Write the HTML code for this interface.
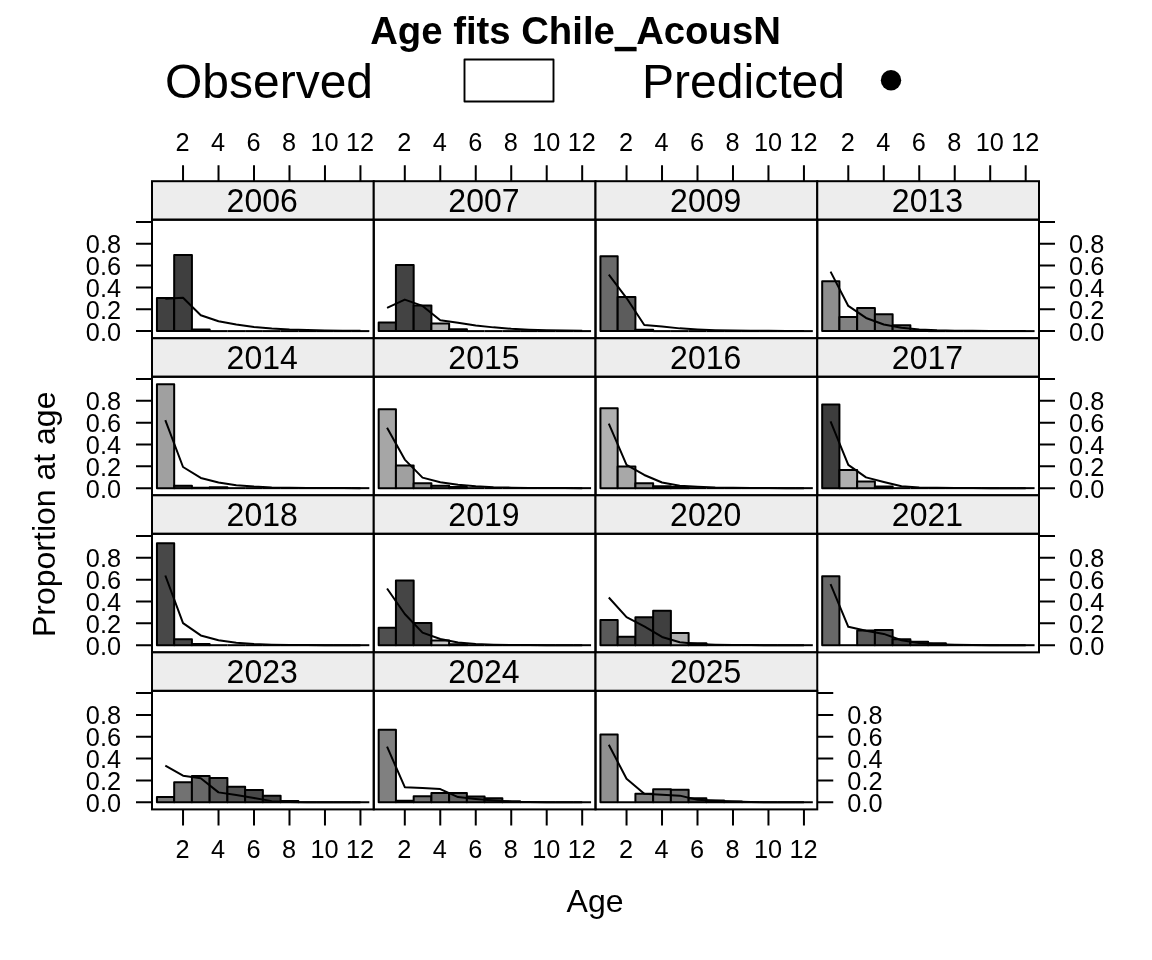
<!DOCTYPE html>
<html><head><meta charset="utf-8"><title>Age fits Chile_AcousN</title>
<style>
html,body{margin:0;padding:0;background:#fff;}
body{width:1152px;height:960px;overflow:hidden;font-family:"Liberation Sans",sans-serif;}
svg{display:block;will-change:transform;filter:grayscale(1);}
.t{font-family:"Liberation Sans",sans-serif;fill:#000;}
</style></head><body>
<svg width="1152" height="960" viewBox="0 0 1152 960">
<rect x="0" y="0" width="1152" height="960" fill="#ffffff"/>
<text x="575.5" y="43.6" font-size="38.3" font-weight="bold" text-anchor="middle" class="t">Age fits Chile_AcousN</text>
<text x="165" y="97.5" font-size="48" class="t" textLength="208" lengthAdjust="spacingAndGlyphs">Observed</text>
<rect x="464.5" y="59.5" width="89" height="42" fill="#fff" stroke="#000" stroke-width="1.9" stroke-linejoin="round"/>
<rect x="614.8" y="47.5" width="21.8" height="3.8" fill="#000"/>
<text x="642" y="97.5" font-size="48" class="t" textLength="203" lengthAdjust="spacingAndGlyphs">Predicted</text>
<circle cx="891" cy="80.3" r="10.2" fill="#000"/>
<rect x="152" y="181.2" width="221.75" height="38.5" fill="#ededed" stroke="#000" stroke-width="2"/>
<text transform="translate(262.18 212.05) scale(1 1.050)" font-size="32" text-anchor="middle" class="t">2006</text>
<g stroke="#000" stroke-width="2" fill="none" stroke-linejoin="round"><rect x="156.94" y="297.96" width="17.24" height="33.14" fill="#414141"/><rect x="174.18" y="255.04" width="17.74" height="76.06" fill="#3f3f3f"/><rect x="191.91" y="329.61" width="17.74" height="1.49" fill="#404040"/><path d="M209.66 331.1h17.74"/><path d="M227.39 331.1h17.74"/><path d="M245.13 331.1h17.74"/><path d="M262.88 331.1h17.74"/><path d="M280.62 331.1h17.74"/><path d="M298.36 331.1h17.74"/><path d="M316.1 331.1h17.74"/><path d="M333.83 331.1h17.74"/><path d="M351.57 331.1h17.74"/></g>
<polyline points="165.31,298.72 183.04,297.74 200.78,315.21 218.52,321.22 236.26,324.6 254,327 271.75,328.62 289.49,329.61 307.23,330.11 324.96,330.48 342.7,330.73 360.44,330.85" fill="none" stroke="#000" stroke-width="2" stroke-linejoin="round"/>
<rect x="152" y="219.7" width="221.75" height="118.55" fill="none" stroke="#000" stroke-width="2"/>
<rect x="373.75" y="181.2" width="221.75" height="38.5" fill="#ededed" stroke="#000" stroke-width="2"/>
<text transform="translate(483.93 212.05) scale(1 1.050)" font-size="32" text-anchor="middle" class="t">2007</text>
<g stroke="#000" stroke-width="2" fill="none" stroke-linejoin="round"><rect x="378.69" y="322.53" width="17.24" height="8.57" fill="#555555"/><rect x="395.93" y="264.98" width="17.74" height="66.12" fill="#434343"/><rect x="413.67" y="305.49" width="17.74" height="25.61" fill="#404040"/><rect x="431.4" y="323.51" width="17.74" height="7.59" fill="#b2b2b2"/><rect x="449.14" y="329.24" width="17.74" height="1.86" fill="#404040"/><path d="M466.88 331.1h17.74"/><path d="M484.62 331.1h17.74"/><path d="M502.37 331.1h17.74"/><path d="M520.11 331.1h17.74"/><path d="M537.85 331.1h17.74"/><path d="M555.59 331.1h17.74"/><path d="M573.33 331.1h17.74"/></g>
<polyline points="387.06,307.9 404.8,299.6 422.53,305.93 440.27,320.34 458.01,322.86 475.75,325.48 493.5,327.37 511.24,328.86 528.98,329.73 546.71,330.23 564.45,330.6 582.19,330.85" fill="none" stroke="#000" stroke-width="2" stroke-linejoin="round"/>
<rect x="373.75" y="219.7" width="221.75" height="118.55" fill="none" stroke="#000" stroke-width="2"/>
<rect x="595.5" y="181.2" width="221.75" height="38.5" fill="#ededed" stroke="#000" stroke-width="2"/>
<text transform="translate(705.67 212.05) scale(1 1.050)" font-size="32" text-anchor="middle" class="t">2009</text>
<g stroke="#000" stroke-width="2" fill="none" stroke-linejoin="round"><rect x="600.43" y="256.24" width="17.24" height="74.86" fill="#6a6a6a"/><rect x="617.67" y="296.98" width="17.74" height="34.12" fill="#5c5c5c"/><rect x="635.41" y="329.86" width="17.74" height="1.24" fill="#404040"/><path d="M653.15 331.1h17.74"/><path d="M670.89 331.1h17.74"/><path d="M688.63 331.1h17.74"/><path d="M706.38 331.1h17.74"/><path d="M724.12 331.1h17.74"/><path d="M741.86 331.1h17.74"/><path d="M759.6 331.1h17.74"/><path d="M777.34 331.1h17.74"/><path d="M795.08 331.1h17.74"/></g>
<polyline points="608.8,274.59 626.54,298.07 644.28,324.93 662.02,326.5 679.76,328.37 697.5,329.49 715.25,330.23 732.99,330.6 750.73,330.73 768.46,330.85 786.2,330.98 803.94,330.98" fill="none" stroke="#000" stroke-width="2" stroke-linejoin="round"/>
<rect x="595.5" y="219.7" width="221.75" height="118.55" fill="none" stroke="#000" stroke-width="2"/>
<rect x="817.25" y="181.2" width="221.75" height="38.5" fill="#ededed" stroke="#000" stroke-width="2"/>
<text transform="translate(927.42 212.05) scale(1 1.050)" font-size="32" text-anchor="middle" class="t">2013</text>
<g stroke="#000" stroke-width="2" fill="none" stroke-linejoin="round"><rect x="822.18" y="281.36" width="17.24" height="49.74" fill="#8e8e8e"/><rect x="839.42" y="316.96" width="17.74" height="14.14" fill="#828282"/><rect x="857.16" y="307.9" width="17.74" height="23.2" fill="#7a7a7a"/><rect x="874.9" y="314.34" width="17.74" height="16.76" fill="#727272"/><rect x="892.64" y="325.26" width="17.74" height="5.84" fill="#6e6e6e"/><rect x="910.38" y="330.48" width="17.74" height="0.62" fill="#404040"/><path d="M928.12 331.1h17.74"/><path d="M945.87 331.1h17.74"/><path d="M963.61 331.1h17.74"/><path d="M981.35 331.1h17.74"/><path d="M999.09 331.1h17.74"/><path d="M1016.83 331.1h17.74"/></g>
<polyline points="830.55,271.64 848.29,305.93 866.03,317.94 883.77,324.49 901.51,327.75 919.25,329.49 937,330.35 954.74,330.73 972.48,330.85 990.21,330.98 1007.95,330.98 1025.69,331.1" fill="none" stroke="#000" stroke-width="2" stroke-linejoin="round"/>
<rect x="817.25" y="219.7" width="221.75" height="118.55" fill="none" stroke="#000" stroke-width="2"/>
<rect x="152" y="338.25" width="221.75" height="38.5" fill="#ededed" stroke="#000" stroke-width="2"/>
<text transform="translate(262.18 369.1) scale(1 1.050)" font-size="32" text-anchor="middle" class="t">2014</text>
<g stroke="#000" stroke-width="2" fill="none" stroke-linejoin="round"><rect x="156.94" y="384.14" width="17.24" height="104.01" fill="#a0a0a0"/><rect x="174.18" y="485.67" width="17.74" height="2.48" fill="#505050"/><rect x="191.91" y="487.78" width="17.74" height="0.37" fill="#404040"/><rect x="209.66" y="487.16" width="17.74" height="0.99" fill="#404040"/><path d="M227.39 488.15h17.74"/><path d="M245.13 488.15h17.74"/><path d="M262.88 488.15h17.74"/><path d="M280.62 488.15h17.74"/><path d="M298.36 488.15h17.74"/><path d="M316.1 488.15h17.74"/><path d="M333.83 488.15h17.74"/><path d="M351.57 488.15h17.74"/></g>
<polyline points="165.31,420.06 183.04,467.02 200.78,477.94 218.52,482.42 236.26,485.17 254,486.54 271.75,487.4 289.49,487.78 307.23,487.9 324.96,488.03 342.7,488.03 360.44,488.15" fill="none" stroke="#000" stroke-width="2" stroke-linejoin="round"/>
<rect x="152" y="376.75" width="221.75" height="118.55" fill="none" stroke="#000" stroke-width="2"/>
<rect x="373.75" y="338.25" width="221.75" height="38.5" fill="#ededed" stroke="#000" stroke-width="2"/>
<text transform="translate(483.93 369.1) scale(1 1.050)" font-size="32" text-anchor="middle" class="t">2015</text>
<g stroke="#000" stroke-width="2" fill="none" stroke-linejoin="round"><rect x="378.69" y="409.25" width="17.24" height="78.9" fill="#a6a6a6"/><rect x="395.93" y="465.38" width="17.74" height="22.77" fill="#a0a0a0"/><rect x="413.67" y="483.18" width="17.74" height="4.97" fill="#8c8c8c"/><rect x="431.4" y="485.67" width="17.74" height="2.48" fill="#6c6c6c"/><rect x="449.14" y="486.91" width="17.74" height="1.24" fill="#505050"/><path d="M466.88 488.15h17.74"/><path d="M484.62 488.15h17.74"/><path d="M502.37 488.15h17.74"/><path d="M520.11 488.15h17.74"/><path d="M537.85 488.15h17.74"/><path d="M555.59 488.15h17.74"/><path d="M573.33 488.15h17.74"/></g>
<polyline points="387.06,427.71 404.8,459.59 422.53,477.61 440.27,482.31 458.01,484.8 475.75,486.29 493.5,487.28 511.24,487.65 528.98,487.9 546.71,488.03 564.45,488.03 582.19,488.15" fill="none" stroke="#000" stroke-width="2" stroke-linejoin="round"/>
<rect x="373.75" y="376.75" width="221.75" height="118.55" fill="none" stroke="#000" stroke-width="2"/>
<rect x="595.5" y="338.25" width="221.75" height="38.5" fill="#ededed" stroke="#000" stroke-width="2"/>
<text transform="translate(705.67 369.1) scale(1 1.050)" font-size="32" text-anchor="middle" class="t">2016</text>
<g stroke="#000" stroke-width="2" fill="none" stroke-linejoin="round"><rect x="600.43" y="408.27" width="17.24" height="79.88" fill="#b0b0b0"/><rect x="617.67" y="466.58" width="17.74" height="21.57" fill="#a8a8a8"/><rect x="635.41" y="483.18" width="17.74" height="4.97" fill="#8e8e8e"/><rect x="653.15" y="486.29" width="17.74" height="1.86" fill="#505050"/><rect x="670.89" y="486.91" width="17.74" height="1.24" fill="#484848"/><path d="M688.63 488.15h17.74"/><path d="M706.38 488.15h17.74"/><path d="M724.12 488.15h17.74"/><path d="M741.86 488.15h17.74"/><path d="M759.6 488.15h17.74"/><path d="M777.34 488.15h17.74"/><path d="M795.08 488.15h17.74"/></g>
<polyline points="608.8,423.67 626.54,464.94 644.28,474.99 662.02,482.53 679.76,485.67 697.5,486.78 715.25,487.53 732.99,487.78 750.73,487.9 768.46,488.03 786.2,488.15 803.94,488.15" fill="none" stroke="#000" stroke-width="2" stroke-linejoin="round"/>
<rect x="595.5" y="376.75" width="221.75" height="118.55" fill="none" stroke="#000" stroke-width="2"/>
<rect x="817.25" y="338.25" width="221.75" height="38.5" fill="#ededed" stroke="#000" stroke-width="2"/>
<text transform="translate(927.42 369.1) scale(1 1.050)" font-size="32" text-anchor="middle" class="t">2017</text>
<g stroke="#000" stroke-width="2" fill="none" stroke-linejoin="round"><rect x="822.18" y="404.56" width="17.24" height="83.59" fill="#3d3d3d"/><rect x="839.42" y="469.97" width="17.74" height="18.18" fill="#b0b0b0"/><rect x="857.16" y="481.54" width="17.74" height="6.61" fill="#a6a6a6"/><rect x="874.9" y="486.54" width="17.74" height="1.61" fill="#808080"/><path d="M892.64 488.15h17.74"/><path d="M910.38 488.15h17.74"/><path d="M928.12 488.15h17.74"/><path d="M945.87 488.15h17.74"/><path d="M963.61 488.15h17.74"/><path d="M981.35 488.15h17.74"/><path d="M999.09 488.15h17.74"/><path d="M1016.83 488.15h17.74"/></g>
<polyline points="830.55,421.48 848.29,464.94 866.03,477.39 883.77,481.98 901.51,486.29 919.25,487.53 937,487.78 954.74,487.9 972.48,488.03 990.21,488.15 1007.95,488.15 1025.69,488.15" fill="none" stroke="#000" stroke-width="2" stroke-linejoin="round"/>
<rect x="817.25" y="376.75" width="221.75" height="118.55" fill="none" stroke="#000" stroke-width="2"/>
<rect x="152" y="495.3" width="221.75" height="38.5" fill="#ededed" stroke="#000" stroke-width="2"/>
<text transform="translate(262.18 526.15) scale(1 1.050)" font-size="32" text-anchor="middle" class="t">2018</text>
<g stroke="#000" stroke-width="2" fill="none" stroke-linejoin="round"><rect x="156.94" y="543.15" width="17.24" height="102.05" fill="#484848"/><rect x="174.18" y="639.36" width="17.74" height="5.84" fill="#484848"/><rect x="191.91" y="643.96" width="17.74" height="1.24" fill="#404040"/><path d="M209.66 645.2h17.74"/><path d="M227.39 645.2h17.74"/><path d="M245.13 645.2h17.74"/><path d="M262.88 645.2h17.74"/><path d="M280.62 645.2h17.74"/><path d="M298.36 645.2h17.74"/><path d="M316.1 645.2h17.74"/><path d="M333.83 645.2h17.74"/><path d="M351.57 645.2h17.74"/></g>
<polyline points="165.31,575.48 183.04,623.09 200.78,635.43 218.52,640.23 236.26,642.72 254,644.08 271.75,644.7 289.49,644.95 307.23,645.08 324.96,645.2 342.7,645.2 360.44,645.2" fill="none" stroke="#000" stroke-width="2" stroke-linejoin="round"/>
<rect x="152" y="533.8" width="221.75" height="118.55" fill="none" stroke="#000" stroke-width="2"/>
<rect x="373.75" y="495.3" width="221.75" height="38.5" fill="#ededed" stroke="#000" stroke-width="2"/>
<text transform="translate(483.93 526.15) scale(1 1.050)" font-size="32" text-anchor="middle" class="t">2019</text>
<g stroke="#000" stroke-width="2" fill="none" stroke-linejoin="round"><rect x="378.69" y="627.78" width="17.24" height="17.42" fill="#505050"/><rect x="395.93" y="580.5" width="17.74" height="64.7" fill="#454545"/><rect x="413.67" y="623.09" width="17.74" height="22.11" fill="#424242"/><rect x="431.4" y="640.48" width="17.74" height="4.72" fill="#c6c6c6"/><rect x="449.14" y="644.21" width="17.74" height="0.99" fill="#606060"/><path d="M466.88 645.2h17.74"/><path d="M484.62 645.2h17.74"/><path d="M502.37 645.2h17.74"/><path d="M520.11 645.2h17.74"/><path d="M537.85 645.2h17.74"/><path d="M555.59 645.2h17.74"/><path d="M573.33 645.2h17.74"/></g>
<polyline points="387.06,588.47 404.8,614.02 422.53,632.59 440.27,639.03 458.01,642.47 475.75,644.08 493.5,644.7 511.24,644.95 528.98,645.08 546.71,645.2 564.45,645.2 582.19,645.2" fill="none" stroke="#000" stroke-width="2" stroke-linejoin="round"/>
<rect x="373.75" y="533.8" width="221.75" height="118.55" fill="none" stroke="#000" stroke-width="2"/>
<rect x="595.5" y="495.3" width="221.75" height="38.5" fill="#ededed" stroke="#000" stroke-width="2"/>
<text transform="translate(705.67 526.15) scale(1 1.050)" font-size="32" text-anchor="middle" class="t">2020</text>
<g stroke="#000" stroke-width="2" fill="none" stroke-linejoin="round"><rect x="600.43" y="620.03" width="17.24" height="25.17" fill="#5a5a5a"/><rect x="617.67" y="636.63" width="17.74" height="8.57" fill="#525252"/><rect x="635.41" y="617.3" width="17.74" height="27.9" fill="#464646"/><rect x="653.15" y="610.64" width="17.74" height="34.56" fill="#3f3f3f"/><rect x="670.89" y="633.02" width="17.74" height="12.18" fill="#b0b0b0"/><rect x="688.63" y="643.34" width="17.74" height="1.86" fill="#404040"/><path d="M706.38 645.2h17.74"/><path d="M724.12 645.2h17.74"/><path d="M741.86 645.2h17.74"/><path d="M759.6 645.2h17.74"/><path d="M777.34 645.2h17.74"/><path d="M795.08 645.2h17.74"/></g>
<polyline points="608.8,597.53 626.54,617.08 644.28,626.47 662.02,636.96 679.76,642.22 697.5,644.08 715.25,644.7 732.99,644.95 750.73,645.08 768.46,645.2 786.2,645.2 803.94,645.2" fill="none" stroke="#000" stroke-width="2" stroke-linejoin="round"/>
<rect x="595.5" y="533.8" width="221.75" height="118.55" fill="none" stroke="#000" stroke-width="2"/>
<rect x="817.25" y="495.3" width="221.75" height="38.5" fill="#ededed" stroke="#000" stroke-width="2"/>
<text transform="translate(927.42 526.15) scale(1 1.050)" font-size="32" text-anchor="middle" class="t">2021</text>
<g stroke="#000" stroke-width="2" fill="none" stroke-linejoin="round"><rect x="822.18" y="576.35" width="17.24" height="68.85" fill="#686868"/><path d="M839.42 645.2h17.74"/><rect x="857.16" y="630.51" width="17.74" height="14.69" fill="#585858"/><rect x="874.9" y="629.97" width="17.74" height="15.23" fill="#505050"/><rect x="892.64" y="639.36" width="17.74" height="5.84" fill="#484848"/><rect x="910.38" y="641.85" width="17.74" height="3.35" fill="#444444"/><rect x="928.12" y="643.34" width="17.74" height="1.86" fill="#404040"/><path d="M945.87 645.2h17.74"/><path d="M963.61 645.2h17.74"/><path d="M981.35 645.2h17.74"/><path d="M999.09 645.2h17.74"/><path d="M1016.83 645.2h17.74"/></g>
<polyline points="830.55,584.21 848.29,626.8 866.03,630.84 883.77,633.9 901.51,640.23 919.25,642.96 937,644.33 954.74,644.83 972.48,645.08 990.21,645.2 1007.95,645.2 1025.69,645.2" fill="none" stroke="#000" stroke-width="2" stroke-linejoin="round"/>
<rect x="817.25" y="533.8" width="221.75" height="118.55" fill="none" stroke="#000" stroke-width="2"/>
<rect x="152" y="652.35" width="221.75" height="38.5" fill="#ededed" stroke="#000" stroke-width="2"/>
<text transform="translate(262.18 683.2) scale(1 1.050)" font-size="32" text-anchor="middle" class="t">2023</text>
<g stroke="#000" stroke-width="2" fill="none" stroke-linejoin="round"><rect x="156.94" y="797.06" width="17.24" height="5.19" fill="#7a7a7a"/><rect x="174.18" y="782.21" width="17.74" height="20.04" fill="#727272"/><rect x="191.91" y="776.1" width="17.74" height="26.15" fill="#686868"/><rect x="209.66" y="778.06" width="17.74" height="24.19" fill="#5a5a5a"/><rect x="227.39" y="786.8" width="17.74" height="15.45" fill="#505050"/><rect x="245.13" y="790.07" width="17.74" height="12.18" fill="#484848"/><rect x="262.88" y="795.64" width="17.74" height="6.61" fill="#444444"/><rect x="280.62" y="801.01" width="17.74" height="1.24" fill="#404040"/><path d="M298.36 802.25h17.74"/><path d="M316.1 802.25h17.74"/><path d="M333.83 802.25h17.74"/><path d="M351.57 802.25h17.74"/></g>
<polyline points="165.31,765.72 183.04,775.66 200.78,778.17 218.52,792.37 236.26,795.1 254,798.03 271.75,801.13 289.49,801.88 307.23,802.13 324.96,802.25 342.7,802.25 360.44,802.25" fill="none" stroke="#000" stroke-width="2" stroke-linejoin="round"/>
<rect x="152" y="690.85" width="221.75" height="118.55" fill="none" stroke="#000" stroke-width="2"/>
<rect x="373.75" y="652.35" width="221.75" height="38.5" fill="#ededed" stroke="#000" stroke-width="2"/>
<text transform="translate(483.93 683.2) scale(1 1.050)" font-size="32" text-anchor="middle" class="t">2024</text>
<g stroke="#000" stroke-width="2" fill="none" stroke-linejoin="round"><rect x="378.69" y="729.8" width="17.24" height="72.45" fill="#808080"/><rect x="395.93" y="800.64" width="17.74" height="1.61" fill="#606060"/><rect x="413.67" y="796.3" width="17.74" height="5.95" fill="#747474"/><rect x="431.4" y="793.02" width="17.74" height="9.23" fill="#6c6c6c"/><rect x="449.14" y="793.02" width="17.74" height="9.23" fill="#646464"/><rect x="466.88" y="796.41" width="17.74" height="5.84" fill="#5c5c5c"/><rect x="484.62" y="798.15" width="17.74" height="4.1" fill="#484848"/><rect x="502.37" y="801.13" width="17.74" height="1.12" fill="#404040"/><path d="M520.11 802.25h17.74"/><path d="M537.85 802.25h17.74"/><path d="M555.59 802.25h17.74"/><path d="M573.33 802.25h17.74"/></g>
<polyline points="387.06,746.72 404.8,787.13 422.53,788.11 440.27,789.09 458.01,797.06 475.75,798.9 493.5,800.39 511.24,801.63 528.98,802 546.71,802.13 564.45,802.25 582.19,802.25" fill="none" stroke="#000" stroke-width="2" stroke-linejoin="round"/>
<rect x="373.75" y="690.85" width="221.75" height="118.55" fill="none" stroke="#000" stroke-width="2"/>
<rect x="595.5" y="652.35" width="221.75" height="38.5" fill="#ededed" stroke="#000" stroke-width="2"/>
<text transform="translate(705.67 683.2) scale(1 1.050)" font-size="32" text-anchor="middle" class="t">2025</text>
<g stroke="#000" stroke-width="2" fill="none" stroke-linejoin="round"><rect x="600.43" y="734.6" width="17.24" height="67.65" fill="#909090"/><path d="M617.67 802.25h17.74"/><rect x="635.41" y="793.68" width="17.74" height="8.57" fill="#808080"/><rect x="653.15" y="789.31" width="17.74" height="12.94" fill="#787878"/><rect x="670.89" y="789.64" width="17.74" height="12.61" fill="#707070"/><rect x="688.63" y="798.15" width="17.74" height="4.1" fill="#505050"/><rect x="706.38" y="800.39" width="17.74" height="1.86" fill="#484848"/><rect x="724.12" y="801.38" width="17.74" height="0.87" fill="#404040"/><path d="M741.86 802.25h17.74"/><path d="M759.6 802.25h17.74"/><path d="M777.34 802.25h17.74"/><path d="M795.08 802.25h17.74"/></g>
<polyline points="608.8,744.76 626.54,778.72 644.28,793.68 662.02,794.66 679.76,795.64 697.5,799.77 715.25,800.76 732.99,801.5 750.73,802 768.46,802.25 786.2,802.25 803.94,802.25" fill="none" stroke="#000" stroke-width="2" stroke-linejoin="round"/>
<rect x="595.5" y="690.85" width="221.75" height="118.55" fill="none" stroke="#000" stroke-width="2"/>
<text transform="translate(121 340.5) scale(1 1.040)" font-size="25.3" text-anchor="end" class="t">0.0</text>
<text transform="translate(121 318.66) scale(1 1.040)" font-size="25.3" text-anchor="end" class="t">0.2</text>
<text transform="translate(121 296.82) scale(1 1.040)" font-size="25.3" text-anchor="end" class="t">0.4</text>
<text transform="translate(121 274.98) scale(1 1.040)" font-size="25.3" text-anchor="end" class="t">0.6</text>
<text transform="translate(121 253.14) scale(1 1.040)" font-size="25.3" text-anchor="end" class="t">0.8</text>
<text transform="translate(1069.1 340.5) scale(1 1.040)" font-size="25.3" text-anchor="start" class="t">0.0</text>
<text transform="translate(1069.1 318.66) scale(1 1.040)" font-size="25.3" text-anchor="start" class="t">0.2</text>
<text transform="translate(1069.1 296.82) scale(1 1.040)" font-size="25.3" text-anchor="start" class="t">0.4</text>
<text transform="translate(1069.1 274.98) scale(1 1.040)" font-size="25.3" text-anchor="start" class="t">0.6</text>
<text transform="translate(1069.1 253.14) scale(1 1.040)" font-size="25.3" text-anchor="start" class="t">0.8</text>
<text transform="translate(121 497.55) scale(1 1.040)" font-size="25.3" text-anchor="end" class="t">0.0</text>
<text transform="translate(121 475.71) scale(1 1.040)" font-size="25.3" text-anchor="end" class="t">0.2</text>
<text transform="translate(121 453.87) scale(1 1.040)" font-size="25.3" text-anchor="end" class="t">0.4</text>
<text transform="translate(121 432.03) scale(1 1.040)" font-size="25.3" text-anchor="end" class="t">0.6</text>
<text transform="translate(121 410.19) scale(1 1.040)" font-size="25.3" text-anchor="end" class="t">0.8</text>
<text transform="translate(1069.1 497.55) scale(1 1.040)" font-size="25.3" text-anchor="start" class="t">0.0</text>
<text transform="translate(1069.1 475.71) scale(1 1.040)" font-size="25.3" text-anchor="start" class="t">0.2</text>
<text transform="translate(1069.1 453.87) scale(1 1.040)" font-size="25.3" text-anchor="start" class="t">0.4</text>
<text transform="translate(1069.1 432.03) scale(1 1.040)" font-size="25.3" text-anchor="start" class="t">0.6</text>
<text transform="translate(1069.1 410.19) scale(1 1.040)" font-size="25.3" text-anchor="start" class="t">0.8</text>
<text transform="translate(121 654.6) scale(1 1.040)" font-size="25.3" text-anchor="end" class="t">0.0</text>
<text transform="translate(121 632.76) scale(1 1.040)" font-size="25.3" text-anchor="end" class="t">0.2</text>
<text transform="translate(121 610.92) scale(1 1.040)" font-size="25.3" text-anchor="end" class="t">0.4</text>
<text transform="translate(121 589.08) scale(1 1.040)" font-size="25.3" text-anchor="end" class="t">0.6</text>
<text transform="translate(121 567.24) scale(1 1.040)" font-size="25.3" text-anchor="end" class="t">0.8</text>
<text transform="translate(1069.1 654.6) scale(1 1.040)" font-size="25.3" text-anchor="start" class="t">0.0</text>
<text transform="translate(1069.1 632.76) scale(1 1.040)" font-size="25.3" text-anchor="start" class="t">0.2</text>
<text transform="translate(1069.1 610.92) scale(1 1.040)" font-size="25.3" text-anchor="start" class="t">0.4</text>
<text transform="translate(1069.1 589.08) scale(1 1.040)" font-size="25.3" text-anchor="start" class="t">0.6</text>
<text transform="translate(1069.1 567.24) scale(1 1.040)" font-size="25.3" text-anchor="start" class="t">0.8</text>
<text transform="translate(121 811.65) scale(1 1.040)" font-size="25.3" text-anchor="end" class="t">0.0</text>
<text transform="translate(121 789.81) scale(1 1.040)" font-size="25.3" text-anchor="end" class="t">0.2</text>
<text transform="translate(121 767.97) scale(1 1.040)" font-size="25.3" text-anchor="end" class="t">0.4</text>
<text transform="translate(121 746.13) scale(1 1.040)" font-size="25.3" text-anchor="end" class="t">0.6</text>
<text transform="translate(121 724.29) scale(1 1.040)" font-size="25.3" text-anchor="end" class="t">0.8</text>
<text transform="translate(847.35 811.65) scale(1 1.040)" font-size="25.3" text-anchor="start" class="t">0.0</text>
<text transform="translate(847.35 789.81) scale(1 1.040)" font-size="25.3" text-anchor="start" class="t">0.2</text>
<text transform="translate(847.35 767.97) scale(1 1.040)" font-size="25.3" text-anchor="start" class="t">0.4</text>
<text transform="translate(847.35 746.13) scale(1 1.040)" font-size="25.3" text-anchor="start" class="t">0.6</text>
<text transform="translate(847.35 724.29) scale(1 1.040)" font-size="25.3" text-anchor="start" class="t">0.8</text>
<text transform="translate(182.64 151.4) scale(1 1.040)" font-size="25.3" text-anchor="middle" class="t">2</text>
<text transform="translate(218.12 151.4) scale(1 1.040)" font-size="25.3" text-anchor="middle" class="t">4</text>
<text transform="translate(253.6 151.4) scale(1 1.040)" font-size="25.3" text-anchor="middle" class="t">6</text>
<text transform="translate(289.09 151.4) scale(1 1.040)" font-size="25.3" text-anchor="middle" class="t">8</text>
<text transform="translate(324.56 151.4) scale(1 1.040)" font-size="25.3" text-anchor="middle" class="t">10</text>
<text transform="translate(360.05 151.4) scale(1 1.040)" font-size="25.3" text-anchor="middle" class="t">12</text>
<text transform="translate(404.4 151.4) scale(1 1.040)" font-size="25.3" text-anchor="middle" class="t">2</text>
<text transform="translate(439.88 151.4) scale(1 1.040)" font-size="25.3" text-anchor="middle" class="t">4</text>
<text transform="translate(475.36 151.4) scale(1 1.040)" font-size="25.3" text-anchor="middle" class="t">6</text>
<text transform="translate(510.84 151.4) scale(1 1.040)" font-size="25.3" text-anchor="middle" class="t">8</text>
<text transform="translate(546.31 151.4) scale(1 1.040)" font-size="25.3" text-anchor="middle" class="t">10</text>
<text transform="translate(581.79 151.4) scale(1 1.040)" font-size="25.3" text-anchor="middle" class="t">12</text>
<text transform="translate(626.14 151.4) scale(1 1.040)" font-size="25.3" text-anchor="middle" class="t">2</text>
<text transform="translate(661.62 151.4) scale(1 1.040)" font-size="25.3" text-anchor="middle" class="t">4</text>
<text transform="translate(697.11 151.4) scale(1 1.040)" font-size="25.3" text-anchor="middle" class="t">6</text>
<text transform="translate(732.59 151.4) scale(1 1.040)" font-size="25.3" text-anchor="middle" class="t">8</text>
<text transform="translate(768.06 151.4) scale(1 1.040)" font-size="25.3" text-anchor="middle" class="t">10</text>
<text transform="translate(803.54 151.4) scale(1 1.040)" font-size="25.3" text-anchor="middle" class="t">12</text>
<text transform="translate(847.89 151.4) scale(1 1.040)" font-size="25.3" text-anchor="middle" class="t">2</text>
<text transform="translate(883.38 151.4) scale(1 1.040)" font-size="25.3" text-anchor="middle" class="t">4</text>
<text transform="translate(918.86 151.4) scale(1 1.040)" font-size="25.3" text-anchor="middle" class="t">6</text>
<text transform="translate(954.34 151.4) scale(1 1.040)" font-size="25.3" text-anchor="middle" class="t">8</text>
<text transform="translate(989.81 151.4) scale(1 1.040)" font-size="25.3" text-anchor="middle" class="t">10</text>
<text transform="translate(1025.29 151.4) scale(1 1.040)" font-size="25.3" text-anchor="middle" class="t">12</text>
<text transform="translate(182.64 858) scale(1 1.040)" font-size="25.3" text-anchor="middle" class="t">2</text>
<text transform="translate(218.12 858) scale(1 1.040)" font-size="25.3" text-anchor="middle" class="t">4</text>
<text transform="translate(253.6 858) scale(1 1.040)" font-size="25.3" text-anchor="middle" class="t">6</text>
<text transform="translate(289.09 858) scale(1 1.040)" font-size="25.3" text-anchor="middle" class="t">8</text>
<text transform="translate(324.56 858) scale(1 1.040)" font-size="25.3" text-anchor="middle" class="t">10</text>
<text transform="translate(360.05 858) scale(1 1.040)" font-size="25.3" text-anchor="middle" class="t">12</text>
<text transform="translate(404.4 858) scale(1 1.040)" font-size="25.3" text-anchor="middle" class="t">2</text>
<text transform="translate(439.88 858) scale(1 1.040)" font-size="25.3" text-anchor="middle" class="t">4</text>
<text transform="translate(475.36 858) scale(1 1.040)" font-size="25.3" text-anchor="middle" class="t">6</text>
<text transform="translate(510.84 858) scale(1 1.040)" font-size="25.3" text-anchor="middle" class="t">8</text>
<text transform="translate(546.31 858) scale(1 1.040)" font-size="25.3" text-anchor="middle" class="t">10</text>
<text transform="translate(581.79 858) scale(1 1.040)" font-size="25.3" text-anchor="middle" class="t">12</text>
<text transform="translate(626.14 858) scale(1 1.040)" font-size="25.3" text-anchor="middle" class="t">2</text>
<text transform="translate(661.62 858) scale(1 1.040)" font-size="25.3" text-anchor="middle" class="t">4</text>
<text transform="translate(697.11 858) scale(1 1.040)" font-size="25.3" text-anchor="middle" class="t">6</text>
<text transform="translate(732.59 858) scale(1 1.040)" font-size="25.3" text-anchor="middle" class="t">8</text>
<text transform="translate(768.06 858) scale(1 1.040)" font-size="25.3" text-anchor="middle" class="t">10</text>
<text transform="translate(803.54 858) scale(1 1.040)" font-size="25.3" text-anchor="middle" class="t">12</text>
<path d="M152 331.1h-16M152 309.26h-16M152 287.42h-16M152 265.58h-16M152 243.74h-16M152 221.9h-16M1039 331.1h16M1039 309.26h16M1039 287.42h16M1039 265.58h16M1039 243.74h16M1039 221.9h16M152 488.15h-16M152 466.31h-16M152 444.47h-16M152 422.63h-16M152 400.79h-16M152 378.95h-16M1039 488.15h16M1039 466.31h16M1039 444.47h16M1039 422.63h16M1039 400.79h16M1039 378.95h16M152 645.2h-16M152 623.36h-16M152 601.52h-16M152 579.68h-16M152 557.84h-16M152 536h-16M1039 645.2h16M1039 623.36h16M1039 601.52h16M1039 579.68h16M1039 557.84h16M1039 536h16M152 802.25h-16M152 780.41h-16M152 758.57h-16M152 736.73h-16M152 714.89h-16M152 693.05h-16M817.25 802.25h16M817.25 780.41h16M817.25 758.57h16M817.25 736.73h16M817.25 714.89h16M817.25 693.05h16M183.04 181.2v-16M218.52 181.2v-16M254 181.2v-16M289.49 181.2v-16M324.96 181.2v-16M360.44 181.2v-16M404.8 181.2v-16M440.27 181.2v-16M475.75 181.2v-16M511.24 181.2v-16M546.71 181.2v-16M582.19 181.2v-16M626.54 181.2v-16M662.02 181.2v-16M697.5 181.2v-16M732.99 181.2v-16M768.46 181.2v-16M803.94 181.2v-16M848.29 181.2v-16M883.77 181.2v-16M919.25 181.2v-16M954.74 181.2v-16M990.21 181.2v-16M1025.69 181.2v-16M183.04 809.4v16M218.52 809.4v16M254 809.4v16M289.49 809.4v16M324.96 809.4v16M360.44 809.4v16M404.8 809.4v16M440.27 809.4v16M475.75 809.4v16M511.24 809.4v16M546.71 809.4v16M582.19 809.4v16M626.54 809.4v16M662.02 809.4v16M697.5 809.4v16M732.99 809.4v16M768.46 809.4v16M803.94 809.4v16" stroke="#000" stroke-width="2" fill="none"/>
<text x="595" y="911.8" font-size="32" text-anchor="middle" class="t">Age</text>
<text transform="translate(54.9,514.3) rotate(-90)" font-size="32" text-anchor="middle" class="t">Proportion at age</text>
</svg>
</body></html>
